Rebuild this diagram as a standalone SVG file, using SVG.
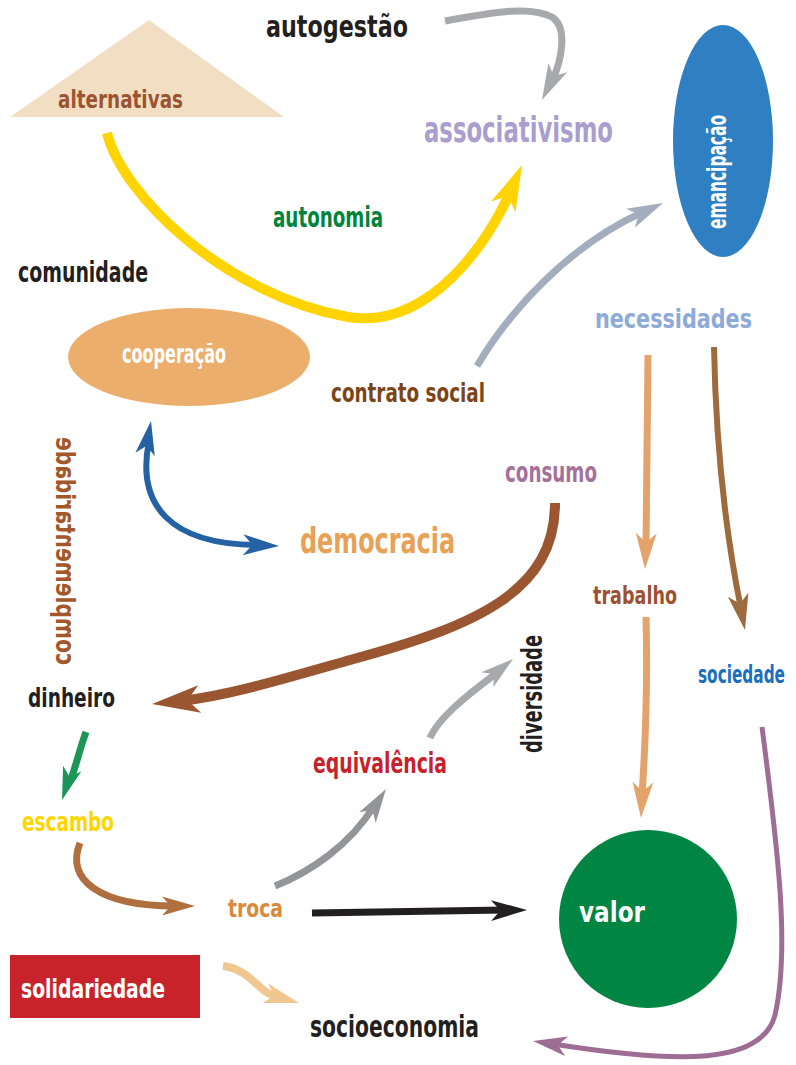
<svg xmlns="http://www.w3.org/2000/svg" xmlns:xlink="http://www.w3.org/1999/xlink" width="796" height="1065" viewBox="0 0 796 1065">
<style>
text{font-family:"DejaVu Sans Condensed","DejaVu Sans",sans-serif;font-weight:bold;font-stretch:condensed}
.c path{fill:none;stroke-linecap:butt}
.k{fill:#231f20}
.w{fill:#ffffff}
</style>
<defs>
<path id="ah" d="M0,0 L-1,-0.29 L-0.74,0 L-1,0.29 Z"/>
</defs>
<rect width="796" height="1065" fill="#ffffff"/>

<g id="connectors" class="c">
<path d="M445,21 C490,13 530,5 552,17 C568,27 562,60 552,81" stroke="#a7a9ac" stroke-width="7"/>
<use xlink:href="#ah" href="#ah" fill="#a7a9ac" transform="translate(542,100) rotate(116) scale(36)"/>

<path d="M107,133 C122,195 225,295 348,317 C430,330 490,240 511,190" stroke="#ffd400" stroke-width="10"/>
<use xlink:href="#ah" href="#ah" fill="#ffd400" transform="translate(522,165) rotate(-66) scale(46)"/>

<path d="M477,366 C510,310 570,245 643,212" stroke="#a3adbd" stroke-width="7"/>
<use xlink:href="#ah" href="#ah" fill="#a3adbd" transform="translate(663,203) rotate(-25) scale(36)"/>

<path d="M149,441 C136,505 170,545 259,545" stroke="#2562a5" stroke-width="6"/>
<use xlink:href="#ah" href="#ah" fill="#2562a5" transform="translate(151,421) rotate(-80) scale(34)"/>
<use xlink:href="#ah" href="#ah" fill="#2562a5" transform="translate(279,546) rotate(2) scale(36)"/>

<path d="M555,503 C555,590 480,625 350,660 C280,680 230,695 181,701" stroke="#9a5631" stroke-width="10"/>
<use xlink:href="#ah" href="#ah" fill="#9a5631" transform="translate(152,704) rotate(174) scale(48)"/>

<path d="M648,355 L646,547" stroke="#e3a36b" stroke-width="7"/>
<use xlink:href="#ah" href="#ah" fill="#e3a36b" transform="translate(645,569) rotate(92) scale(36)"/>

<path d="M714,347 C716,450 725,530 741,609" stroke="#9d6b3e" stroke-width="6"/>
<use xlink:href="#ah" href="#ah" fill="#9d6b3e" transform="translate(745,630) rotate(79) scale(36)"/>

<path d="M646,617 C648,690 645,750 642,796" stroke="#e3a36b" stroke-width="7"/>
<use xlink:href="#ah" href="#ah" fill="#e3a36b" transform="translate(641,818) rotate(93) scale(36)"/>

<path d="M762,727 C778,850 790,950 775,1015 C762,1065 680,1064 553,1044" stroke="#9e6d94" stroke-width="5"/>
<use xlink:href="#ah" href="#ah" fill="#9e6d94" transform="translate(533,1041) rotate(189) scale(34)"/>

<path d="M86,732 C80,748 76,766 70,782" stroke="#1b9657" stroke-width="7"/>
<use xlink:href="#ah" href="#ah" fill="#1b9657" transform="translate(62,800) rotate(108) scale(33)"/>

<path d="M80,843 C65,880 100,906 175,906" stroke="#b06f3e" stroke-width="7"/>
<use xlink:href="#ah" href="#ah" fill="#b06f3e" transform="translate(195,906) rotate(0) scale(33)"/>

<path d="M275,886 C310,872 350,845 374,806" stroke="#939598" stroke-width="7"/>
<use xlink:href="#ah" href="#ah" fill="#939598" transform="translate(386,789) rotate(-57) scale(34)"/>

<path d="M430,738 C440,714 480,686 498,672" stroke="#a7a9ac" stroke-width="7"/>
<use xlink:href="#ah" href="#ah" fill="#a7a9ac" transform="translate(513,659) rotate(-39) scale(33)"/>

<path d="M312,913 L505,910" stroke="#231f20" stroke-width="7"/>
<use xlink:href="#ah" href="#ah" fill="#231f20" transform="translate(527,910) rotate(-1) scale(36)"/>

<path d="M223,966 C240,968 250,978 260,987 C266,993 272,996 279,997" stroke="#f1c791" stroke-width="8"/>
<use xlink:href="#ah" href="#ah" fill="#f1c791" transform="translate(299,1003) rotate(16) scale(35)"/>
</g>

<g id="autogestao"><text x="266" y="37" font-size="30" textLength="142" lengthAdjust="spacingAndGlyphs" class="k">autogestão</text></g>
<g id="alternativas">
<polygon points="149,20 284,117 10,117" fill="#f2dfc3"/>
<text x="58" y="108" font-size="25" textLength="125" lengthAdjust="spacingAndGlyphs" fill="#9c5332">alternativas</text>
</g>
<g id="associativismo"><text x="424" y="142" font-size="35" textLength="189" lengthAdjust="spacingAndGlyphs" fill="#a99ece">associativismo</text></g>
<g id="emancipacao">
<ellipse cx="723" cy="141" rx="50" ry="116" fill="#2f7fc3"/>
<text transform="translate(726,229) rotate(-90)" x="0" y="0" font-size="27" textLength="114" lengthAdjust="spacingAndGlyphs" class="w">emancipação</text>
</g>
<g id="autonomia"><text x="273" y="227" font-size="28" textLength="110" lengthAdjust="spacingAndGlyphs" fill="#00843d">autonomia</text></g>
<g id="comunidade"><text x="18" y="282" font-size="28" textLength="130" lengthAdjust="spacingAndGlyphs" class="k">comunidade</text></g>
<g id="cooperacao">
<ellipse cx="189" cy="357" rx="121" ry="49" fill="#ebae6d"/>
<text x="122" y="363" font-size="27" textLength="104" lengthAdjust="spacingAndGlyphs" class="w">cooperação</text>
</g>
<g id="contrato-social"><text x="331" y="402" font-size="27" textLength="154" lengthAdjust="spacingAndGlyphs" fill="#7b4517">contrato social</text></g>
<g id="necessidades"><text x="595" y="328" font-size="27" textLength="157" lengthAdjust="spacingAndGlyphs" fill="#8eaad9">necessidades</text></g>
<g id="consumo"><text x="505" y="482" font-size="29" textLength="92" lengthAdjust="spacingAndGlyphs" fill="#a5719b">consumo</text></g>
<g id="democracia"><text x="300" y="553" font-size="36" textLength="155" lengthAdjust="spacingAndGlyphs" fill="#e7a255">democracia</text></g>
<g id="complementaridade"><text transform="matrix(0,-1,-1,0,56,665)" x="0" y="0" font-size="26" textLength="228" lengthAdjust="spacingAndGlyphs" fill="#a2582a">complementaridade</text></g>
<g id="trabalho"><text x="593" y="604" font-size="25" textLength="84" lengthAdjust="spacingAndGlyphs" fill="#9c5231">trabalho</text></g>
<g id="sociedade"><text x="785" y="683" text-anchor="end" font-size="24" textLength="87" lengthAdjust="spacingAndGlyphs" fill="#1c6fbd">sociedade</text></g>
<g id="dinheiro"><text x="28" y="707" font-size="26" textLength="87" lengthAdjust="spacingAndGlyphs" class="k">dinheiro</text></g>
<g id="escambo"><text x="22" y="831" font-size="26" textLength="92" lengthAdjust="spacingAndGlyphs" fill="#ffd500">escambo</text></g>
<g id="troca"><text x="228" y="917" font-size="25" textLength="55" lengthAdjust="spacingAndGlyphs" fill="#d98a3e">troca</text></g>
<g id="equivalencia"><text x="313" y="773" font-size="28" textLength="134" lengthAdjust="spacingAndGlyphs" fill="#c7222b">equivalência</text></g>
<g id="diversidade"><text transform="translate(542,753) rotate(-90)" x="0" y="0" font-size="28" textLength="118" lengthAdjust="spacingAndGlyphs" class="k">diversidade</text></g>
<g id="valor">
<circle cx="648" cy="919" r="89" fill="#008542"/>
<text x="579" y="922" font-size="29" textLength="66" lengthAdjust="spacingAndGlyphs" class="w">valor</text>
</g>
<g id="solidariedade">
<rect x="10" y="955" width="190" height="63" fill="#c8232a"/>
<text x="21" y="998" font-size="26" textLength="144" lengthAdjust="spacingAndGlyphs" class="w">solidariedade</text>
</g>
<g id="socioeconomia"><text x="310" y="1037" font-size="30" textLength="169" lengthAdjust="spacingAndGlyphs" class="k">socioeconomia</text></g>
</svg>
